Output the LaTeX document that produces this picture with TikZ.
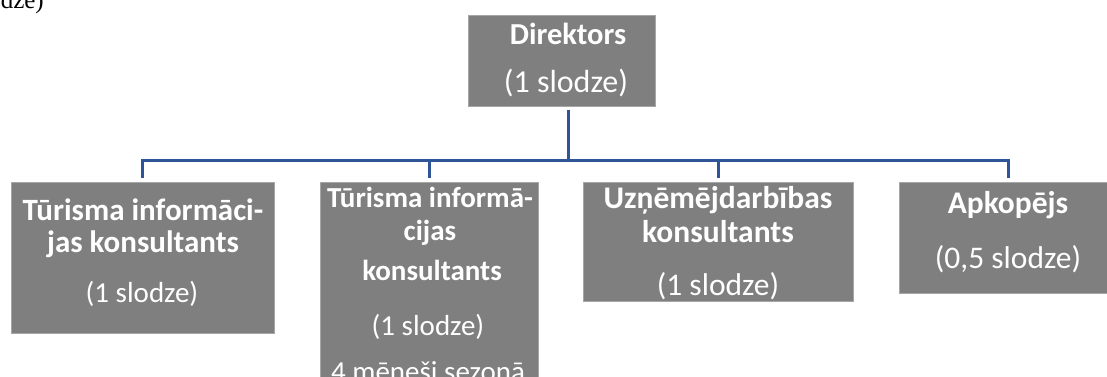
\documentclass[tikz,border=0pt]{standalone}
\usepackage{fontspec}
\setmainfont{Carlito}
\newfontfamily\timesfont{Liberation Serif}
\definecolor{boxgray}{HTML}{7F7F7F}
\definecolor{boxedge}{HTML}{A6A6A6}
\definecolor{linkblue}{HTML}{2F5597}
\begin{document}
\begin{tikzpicture}[x=1pt,y=-1pt,
  orgbox/.style={fill=boxgray, draw=boxedge, line width=0.8pt, inner sep=0pt, anchor=north west},
  hd/.style={text=white, anchor=base, inner sep=0pt, font=\bfseries\fontsize{#1}{#1}\selectfont},
  rg/.style={text=white, anchor=base, inner sep=0pt, font=\fontsize{#1}{#1}\selectfont},
  link/.style={draw=linkblue, line width=3pt, line join=miter}]
\clip (0,0) rectangle (1107,377);
\fill[white] (0,0) rectangle (1107,377);

% fragment of text above
\node[anchor=base east, inner sep=0pt, font=\timesfont\fontsize{25}{30}\selectfont] (frag) at (44,9) {dze)};

% boxes
\node[orgbox, minimum width=187pt, minimum height=91pt] (dir) at (468,15) {};
\node[orgbox, minimum width=263pt, minimum height=151pt] (b1) at (11,182) {};
\node[orgbox, minimum width=218pt, minimum height=210pt] (b2) at (320,182) {};
\node[orgbox, minimum width=270pt, minimum height=119pt] (b3) at (583,182) {};
\node[orgbox, minimum width=218pt, minimum height=111pt] (b4) at (899,182) {};

% texts
\node[hd=30.5] (t0a) at (568,45) {Direktors};
\node[rg=32] (t0b) at (566,93) {(1 slodze)};

\node[hd=31] (t1a) at (143,220) {Tūrisma informāci-};
\node[hd=31] (t1b) at (143,252) {jas konsultants};
\node[rg=29] (t1c) at (142,302) {(1 slodze)};

\node[hd=29] (t2a) at (430,207) {Tūrisma informā-};
\node[hd=29] (t2b) at (430,240) {cijas};
\node[hd=29] (t2c) at (432,280) {konsultants};
\node[rg=29] (t2d) at (428,335) {(1 slodze)};
\node[rg=29] (t2e) at (428,381) {4 mēneši sezonā};

\node[hd=31.5] (t3a) at (718,208) {Uzņēmējdarbības};
\node[hd=31.5] (t3b) at (718,242) {konsultants};
\node[rg=31.5] (t3c) at (718,295) {(1 slodze)};

\node[hd=31.5] (t4a) at (1008,213) {Apkopējs};
\node[rg=31.5] (t4b) at (1008,268) {(0,5 slodze)};

% connectors
\coordinate (hub) at (568,160);
\draw[link] ([yshift=-3pt]dir.south -| hub) -- (hub);
\draw[link, shorten >=4pt] (hub) -| (b1.north);
\draw[link, shorten >=4pt] (hub) -| (b2.north);
\draw[link, shorten >=4pt] (hub) -| (b3.north);
\draw[link, shorten >=4pt] (hub) -| (b4.north);
\end{tikzpicture}
\end{document}
